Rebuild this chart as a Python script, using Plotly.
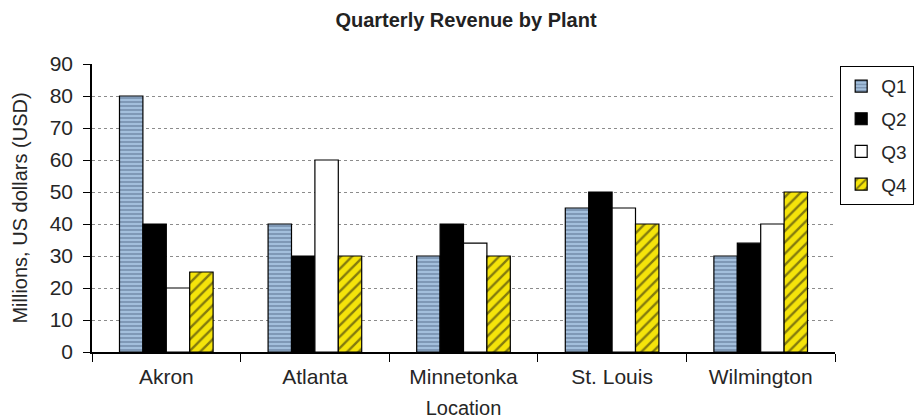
import plotly.graph_objects as go

locations = ["Akron", "Atlanta", "Minnetonka", "St. Louis", "Wilmington"]
q1 = [80, 40, 30, 45, 30]
q2 = [40, 30, 40, 50, 34]
q3 = [20, 60, 34, 45, 40]
q4 = [25, 30, 30, 40, 50]
series_names = ["Q1", "Q2", "Q3", "Q4"]
y_ticks = [0, 10, 20, 30, 40, 50, 60, 70, 80, 90]

styles = [
    dict(color="#a3bfdc", pattern=dict(shape="-", fgcolor="#2b3f5c", size=4, solidity=0.3)),
    dict(color="#000000"),
    dict(color="#ffffff"),
    dict(color="#f5e40a", pattern=dict(shape="/", fgcolor="#111111", bgcolor="#f5e40a", size=8, solidity=0.3)),
]

fig = go.Figure()
for i, (name, vals) in enumerate(zip(series_names, [q1, q2, q3, q4])):
    st = styles[i]
    marker = dict(color=st["color"], line=dict(color="#000000", width=1.2))
    if "pattern" in st:
        marker["pattern"] = st["pattern"]
    fig.add_trace(go.Bar(x=locations, y=vals, name=name, marker=marker, legendgroup=name))

fig.update_layout(
    width=916, height=411,
    margin=dict(l=84, r=89, t=56, b=67, autoexpand=False),
    paper_bgcolor="white", plot_bgcolor="white",
    font=dict(family="Liberation Sans, Arial, sans-serif", size=19, color="#262626"),
    title=dict(text="<b>Quarterly Revenue by Plant</b>", x=0.5, xanchor="center", y=0.971, yanchor="middle",
               font=dict(size=20, color="#222222")),
    barmode="group", bargap=0.37, bargroupgap=0,
    showlegend=True,
    legend=dict(x=1.0067, xanchor="left", y=0.993, yanchor="top", bordercolor="#000000", borderwidth=1.2,
                bgcolor="white", tracegroupgap=5, font=dict(size=19)),
)
fig.update_xaxes(showline=True, linecolor="#000000", linewidth=1.5, ticks="outside", tickson="boundaries",
                 ticklen=8, tickcolor="#000000", automargin=False, ticklabelstandoff=5,
                 tickfont=dict(size=21),
                 title=dict(text="Location", standoff=30, font=dict(size=20)), showgrid=False)
fig.update_yaxes(range=[0, 90], tickvals=y_ticks, showline=True, linecolor="#000000", linewidth=1.5,
                 ticks="outside", ticklen=7, tickcolor="#000000", showgrid=True, gridcolor="#8c8c8c",
                 griddash="dot", gridwidth=1, zeroline=False, automargin=False, ticklabelstandoff=6,
                 tickfont=dict(size=21),
                 title=dict(text="Millions, US dollars (USD)", standoff=17, font=dict(size=20)))

fig.write_html("out.html")
